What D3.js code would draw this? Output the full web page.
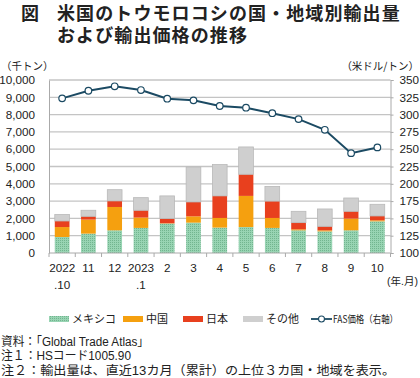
<!DOCTYPE html>
<html><head><meta charset="utf-8">
<script src="https://cdn.jsdelivr.net/npm/d3@7"></script>
<style>
body{margin:0;background:#fff;}
svg text{font-family:"Liberation Sans",Arial,"Noto Sans CJK JP",sans-serif;fill:#222;}
.jp{font-family:"Noto Sans CJK JP","Liberation Sans",sans-serif;}
.mix{font-family:"Liberation Sans","Noto Sans CJK JP",sans-serif;}
</style></head>
<body><svg id="c" width="420" height="378"></svg>
<script>
const categories = ["2022\n.10","11","12","2023\n.1","2","3","4","5","6","7","8","9","10"];
const mexico = [925,1120,1310,1450,1700,1755,1470,1500,1450,1310,1250,1310,1830];
const china  = [575,810,1350,600,20,365,555,1800,575,60,60,680,60];
const japan  = [350,190,350,420,270,830,1275,1250,975,385,230,420,250];
const others = [370,350,650,730,1310,2020,1810,1580,850,655,1005,770,675];
const price  = [323.5,334.5,340.9,335.5,323,320.6,312.4,310,302,293.5,278,244.3,252.6];
const leftTicks = [0,1000,2000,3000,4000,5000,6000,7000,8000,9000,10000];
const rightTicks = [100,125,150,175,200,225,250,275,300,325,350];
const seriesNames = ["メキシコ","中国","日本","その他"];
const seriesColors = ["url(#dots)","#f5a00f","#e8401e","#cfcfcf"];

const svg = d3.select("#c");
const defs = svg.append("defs");
const pat = defs.append("pattern").attr("id","dots").attr("width",2).attr("height",2).attr("patternUnits","userSpaceOnUse");
pat.append("rect").attr("width",2).attr("height",2).attr("fill","#98d4b3");
pat.append("rect").attr("width",1).attr("height",1).attr("fill","#72b58f");

const L=49, R=390.5, T=80, B=253;
const x = d3.scaleBand().domain(d3.range(categories.length)).range([L,R]).paddingInner(0.44).paddingOuter(0.22);
const xb = d3.scaleBand().domain(d3.range(categories.length)).range([L,R]);
const y = d3.scaleLinear().domain([0,10000]).range([B,T]);
const y2 = d3.scaleLinear().domain([100,350]).range([B,T]);

// title
const tAttr = s => s.attr("class","jp").attr("font-size",18).attr("font-weight","bold").attr("letter-spacing",1.1);
svg.append("text").call(tAttr).attr("x",21).attr("y",19.5).text("図");
svg.append("text").call(tAttr).attr("x",57).attr("y",19.5).text("米国のトウモロコシの国・地域別輸出量");
svg.append("text").call(tAttr).attr("x",57).attr("y",42).text("および輸出価格の推移");

svg.append("text").attr("class","jp").attr("x",1).attr("y",70).attr("font-size",10.5).text("（千トン）");
svg.append("text").attr("class","jp").attr("x",419).attr("y",70).attr("font-size",10.5).attr("text-anchor","end").text("（米ドル/トン）");

// grid
svg.append("g").selectAll("line").data(leftTicks.slice(1)).join("line")
  .attr("x1",L).attr("x2",R).attr("y1",d=>y(d)).attr("y2",d=>y(d))
  .attr("stroke","#c4c4c4").attr("stroke-width",1.3);

// left axis
const ga = svg.append("g").attr("transform",`translate(${L},0)`)
  .call(d3.axisLeft(y).tickValues(leftTicks).tickFormat(d3.format(",")).tickSize(0).tickPadding(14));
ga.select(".domain").attr("stroke","#aaa");
ga.selectAll("text").attr("font-size",11.7).attr("fill","#222").style("font-family","Liberation Sans, Arial");

const gr = svg.append("g").attr("transform",`translate(${R},0)`)
  .call(d3.axisRight(y2).tickValues(rightTicks).tickSize(3).tickPadding(6));
gr.select(".domain").attr("stroke","#aaa");
gr.selectAll(".tick line").attr("stroke","#aaa");
gr.selectAll("text").attr("font-size",11.7).attr("fill","#222").style("font-family","Liberation Sans, Arial");

// bars
const data = categories.map((c,i)=>({i,mexico:mexico[i],china:china[i],japan:japan[i],others:others[i]}));
const stack = d3.stack().keys(["mexico","china","japan","others"])(data);
stack.forEach((s,k)=>{
  svg.append("g").selectAll("rect").data(s).join("rect")
    .attr("x",d=>x(d.data.i)).attr("width",x.bandwidth())
    .attr("y",d=>y(d[1])).attr("height",d=>y(d[0])-y(d[1]))
    .attr("fill",seriesColors[k])
    .attr("stroke",k===3?"#b9b9b9":"none").attr("stroke-width",0.8);
});

// x axis
svg.append("line").attr("x1",L).attr("x2",R).attr("y1",B).attr("y2",B).attr("stroke","#aaa");
svg.append("g").selectAll("line").data(d3.range(categories.length+1)).join("line")
  .attr("x1",i=>L+xb.step()*i).attr("x2",i=>L+xb.step()*i).attr("y1",B).attr("y2",B+4).attr("stroke","#aaa");
const xl = svg.append("g").selectAll("text").data(categories).join("text")
  .attr("text-anchor","middle").attr("font-size",11.7);
xl.each(function(d,i){
  const parts=d.split("\n");
  d3.select(this).selectAll("tspan").data(parts).join("tspan")
    .attr("x",xb(i)+xb.bandwidth()/2).attr("y",(p,j)=>272+j*16.5).text(p=>p);
});
svg.append("text").attr("class","mix").attr("x",418).attr("y",285).attr("font-size",10.5).attr("text-anchor","end")
  .text("(年.月)");

// price line
const line = d3.line().x((d,i)=>xb(i)+xb.bandwidth()/2).y(d=>y2(d));
svg.append("path").datum(price).attr("d",line).attr("fill","none").attr("stroke","#1b4a63").attr("stroke-width",2);
svg.append("g").selectAll("circle").data(price).join("circle")
  .attr("cx",(d,i)=>xb(i)+xb.bandwidth()/2).attr("cy",d=>y2(d)).attr("r",3.3)
  .attr("fill","#fff").attr("stroke","#1b4a63").attr("stroke-width",1.2);

// legend
const ly=319;
const lx=[49,123,183,243];
seriesNames.forEach((n,k)=>{
  svg.append("rect").attr("x",lx[k]).attr("y",ly-3).attr("width",20).attr("height",6).attr("fill",seriesColors[k]);
  svg.append("text").attr("class","jp").attr("x",lx[k]+23).attr("y",ly+4).attr("font-size",11).text(n);
});
svg.append("line").attr("x1",311).attr("x2",332).attr("y1",ly).attr("y2",ly).attr("stroke","#1b4a63").attr("stroke-width",1.8);
svg.append("circle").attr("cx",321.5).attr("cy",ly).attr("r",3).attr("fill","#fff").attr("stroke","#1b4a63").attr("stroke-width",1.1);
svg.append("text").attr("class","jp").attr("x",333).attr("y",ly+4).attr("font-size",10).attr("textLength",65).attr("lengthAdjust","spacingAndGlyphs").text("FAS価格（右軸）");

// notes
const notes=["資料：「Global Trade Atlas」","注１：HSコード1005.90","注２：輸出量は、直近13カ月（累計）の上位３カ国・地域を表示。"];
const noteW=[148,130,394];
svg.append("g").selectAll("text").data(notes).join("text").attr("class","mix")
  .attr("x",1).attr("y",(d,i)=>345.5+i*14.5).attr("font-size",12.5)
  .attr("textLength",(d,i)=>noteW[i]).attr("lengthAdjust","spacingAndGlyphs").text(d=>d);
</script></body></html>
